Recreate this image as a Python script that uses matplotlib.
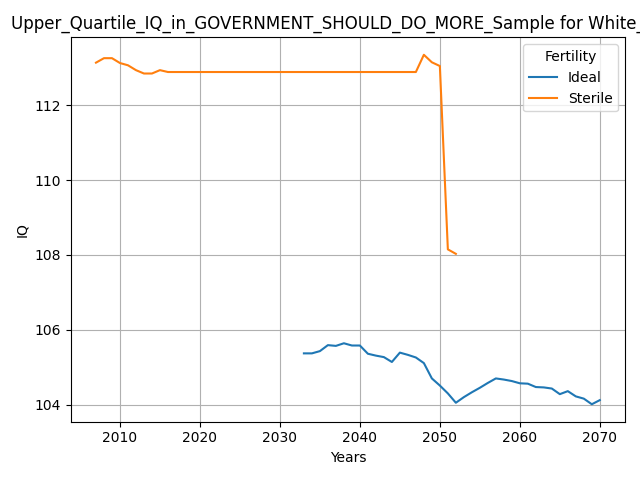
import matplotlib
matplotlib.use('Agg')
import matplotlib.pyplot as plt

ideal_years = list(range(2033, 2071))
ideal_iq = [105.37, 105.37, 105.43, 105.59, 105.57, 105.64, 105.58, 105.58,
            105.36, 105.31, 105.27, 105.14, 105.39, 105.33, 105.26, 105.11,
            104.70, 104.51, 104.30, 104.05, 104.20, 104.33, 104.45, 104.58,
            104.70, 104.67, 104.63, 104.57, 104.56, 104.47, 104.46, 104.43,
            104.28, 104.36, 104.22, 104.16, 104.01, 104.12]

sterile_years = list(range(2007, 2053))
sterile_iq = [113.14, 113.26, 113.26, 113.13, 113.07, 112.94, 112.85, 112.85,
              112.94, 112.89] + [112.89] * 31 + [113.35, 113.15, 113.05,
              108.15, 108.03]

fig, ax = plt.subplots(figsize=(6.4, 4.8), dpi=100)
ax.plot(ideal_years, ideal_iq, label='Ideal')
ax.plot(sterile_years, sterile_iq, label='Sterile')
ax.set_title('Upper_Quartile_IQ_in_GOVERNMENT_SHOULD_DO_MORE_Sample for White_Male')
ax.set_xlabel('Years')
ax.set_ylabel('IQ')
ax.legend(title='Fertility', loc='upper right')
ax.grid(True)

plt.tight_layout()
plt.savefig('out.png')
